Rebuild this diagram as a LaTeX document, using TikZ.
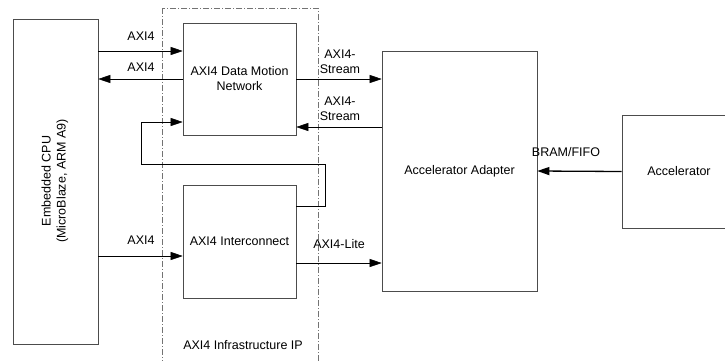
\documentclass[tikz,border=0pt]{standalone}
\usepackage{fontspec}
\setmainfont{Liberation Sans}
\usetikzlibrary{arrows.meta}
\begin{document}
\begin{tikzpicture}[x=1pt,y=-1pt,font=\fontsize{12.5}{15}\selectfont,
  blk/.style={draw=black!70,line width=0.6pt,inner sep=0pt,align=center},
  sig/.style={-{Triangle[length=12pt,width=8pt]},line width=0.5pt},
  lbl/.style={inner sep=0pt,align=center}]
\useasboundingbox (0,0) rectangle (725,360);
% infrastructure frame
\draw[black!55,line width=0.5pt,dash pattern=on 6pt off 2pt on 1pt off 2pt] (162,8) rectangle (318,365);
\node[lbl] (infra) at (243,345) {AXI4 Infrastructure IP};
% blocks
\node[blk,minimum width=85pt,minimum height=325pt] (cpu) at (55.5,181.5) {};
\node[lbl,rotate=90] (cputxt) at (55,181) {Embedded CPU\\(MicroBlaze, ARM A9)};
\node[blk,minimum width=113pt,minimum height=112pt] (dmn) at (239.5,79) {AXI4 Data Motion\\Network};
\node[blk,minimum width=113pt,minimum height=113pt] (ic) at (239.5,241.5) {AXI4 Interconnect};
\node[blk,minimum width=155pt,minimum height=240pt] (adp) at (459.5,171) {Accelerator Adapter};
\node[blk,minimum width=114pt,minimum height=113pt] (acc) at (679,171.5) {Accelerator};
% levels
\coordinate (y1) at (0,51);
\coordinate (y2) at (0,79);
\coordinate (y3) at (0,122);
\coordinate (y4) at (0,127);
\coordinate (y5) at (0,206);
\coordinate (y6) at (0,256);
\coordinate (y7) at (0,263);
\coordinate (lp1) at (325,206);
\coordinate (lp2) at (325,164);
\coordinate (lp3) at (141,164);
\coordinate (lp4) at (141,122);
% connections
\draw[sig] (cpu.east |- y1) -- (dmn.west |- y1);
\node[lbl] at (141,36) {AXI4};
\draw[sig] (dmn.west |- y2) -- (cpu.east |- y2);
\node[lbl] at (141,67) {AXI4};
\draw[sig] (dmn.east |- y2) -- (adp.west |- y2);
\node[lbl] at (340,62) {AXI4-\\Stream};
\draw[sig] (adp.west |- y4) -- (dmn.east |- y4);
\node[lbl] at (340,108.5) {AXI4-\\Stream};
\draw[sig] (ic.east |- y5) -- (lp1) -- (lp2) -- (lp3) -- (lp4) -- (dmn.west |- y3);
\draw[sig] (cpu.east |- y6) -- (ic.west |- y6);
\node[lbl] at (141,240) {AXI4};
\draw[sig] (ic.east |- y7) -- (adp.west |- y7);
\node[lbl] at (339,244) {AXI4-Lite};
\draw[sig,line width=1.3pt] (acc.west) -- (adp.east);
\node[lbl] at (566,152) {BRAM/FIFO};
\end{tikzpicture}
\end{document}
